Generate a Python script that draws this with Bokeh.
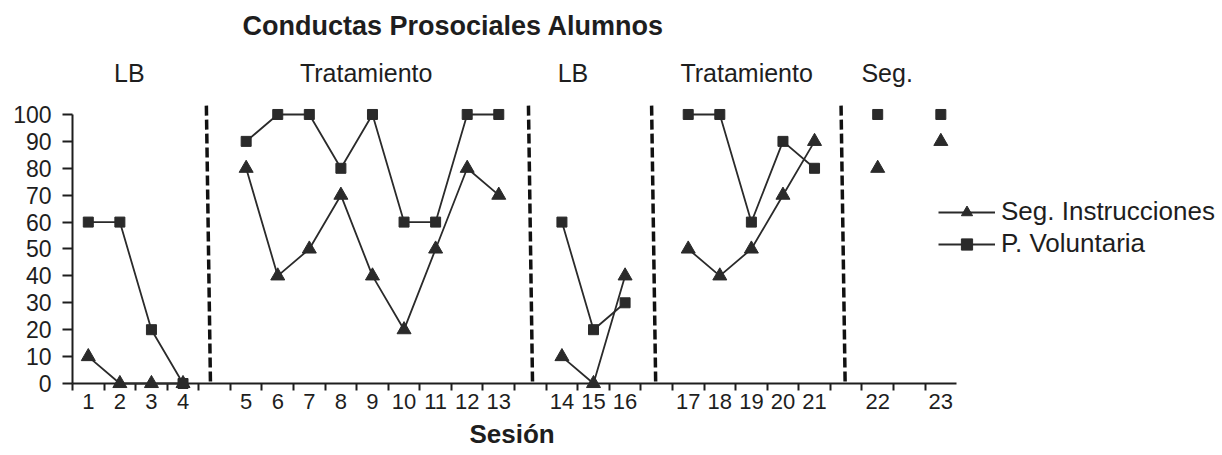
from bokeh.plotting import figure
from bokeh.models import Range1d, FixedTicker, Legend, LegendItem, Title
from bokeh.core.properties import value
from bokeh.embed import file_html
from bokeh.resources import INLINE

# ---------------- data ----------------
sessions = list(range(1, 24))
seg_instrucciones = [10, 0, 0, 0, 80, 40, 50, 70, 40, 20, 50, 80, 70,
                     10, 0, 40, 50, 40, 50, 70, 90, 80, 90]
p_voluntaria = [60, 60, 20, 0, 90, 100, 100, 80, 100, 60, 60, 100, 100,
                60, 20, 30, 100, 100, 60, 90, 80, 100, 100]
gap_after = [4, 13, 16, 21, 22]          # an empty category follows these sessions
phase_names = ["LB", "Tratamiento", "LB", "Tratamiento", "Seg."]
phase_label_pos = [2.3, 9.8, 16.35, 21.85, 26.3]   # in category units
phase_change_pos = [4.8, 15.0, 18.9, 24.9]         # dashed phase-change lines
y_ticks = list(range(0, 101, 10))
x_title = "Sesión"
chart_title = "Conductas Prosociales Alumnos"

# ---------------- derived positions ----------------
pos = []
off = 0
for s in sessions:
    pos.append(s + off)
    if s in gap_after:
        off += 1
n_cells = pos[-1]


def with_breaks(vals):
    xs, ys = [], []
    for s, px, v in zip(sessions, pos, vals):
        xs.append(px)
        ys.append(v)
        if s in gap_after:
            xs.append(px + 1)
            ys.append(float("nan"))
    return xs, ys


INK = "#1e1e1e"
MARK = "#2a2a2a"
FONT = "Liberation Sans"

p = figure(width=1222, height=455, output_backend="svg", toolbar_location=None,
           x_range=Range1d(0.5, 36.92), y_range=Range1d(0, 127.5),
           min_border_left=72, min_border_right=0, min_border_top=40,
           min_border_bottom=72)
p.outline_line_color = None
p.grid.visible = False
p.background_fill_color = "white"

p.title.text = chart_title
p.title.text_font = FONT
p.title.text_font_size = "27px"
p.title.text_font_style = "bold"
p.title.text_color = INK
p.title.align = "left"
p.title.offset = 170
p.title.standoff = 0

# x axis
xax = p.xaxis[0]
xax.ticker = FixedTicker(ticks=pos, minor_ticks=[k + 0.5 for k in range(n_cells)])
xax.major_label_overrides = {px: str(s) for px, s in zip(pos, sessions)}
xax.bounds = (0.5, n_cells + 0.5)
xax.axis_line_width = 2
xax.axis_line_color = INK
xax.major_tick_out = 7
xax.major_tick_in = 0
xax.major_tick_line_color = None
xax.minor_tick_out = 7
xax.minor_tick_in = 0
xax.minor_tick_line_width = 2
xax.minor_tick_line_color = INK
xax.major_label_text_font = FONT
xax.major_label_text_font_size = "22px"
xax.major_label_text_color = INK
xax.major_label_standoff = 3

# x axis title, centred under the category axis (panel below the axis)
p.add_layout(Title(text=x_title, align="left", offset=397, vertical_align="bottom",
                   standoff=10, text_font=FONT, text_font_size="26px",
                   text_font_style="bold", text_color=INK), "below")

# y axis
yax = p.yaxis[0]
yax.ticker = FixedTicker(ticks=y_ticks)
yax.bounds = (0, 100)
yax.axis_line_width = 2
yax.axis_line_color = INK
yax.major_tick_out = 10
yax.major_tick_in = 0
yax.major_tick_line_width = 2
yax.major_tick_line_color = INK
yax.minor_tick_line_color = None
yax.major_label_text_font = FONT
yax.major_label_text_font_size = "23px"
yax.major_label_text_color = INK
yax.major_label_standoff = 11

# phase change dashed lines
p.segment(x0=[v - 0.06 for v in phase_change_pos], y0=[103.3] * len(phase_change_pos),
          x1=[v + 0.07 for v in phase_change_pos], y1=[-0.75] * len(phase_change_pos),
          line_color="#111111", line_width=3.5, line_dash="10 4", level="overlay")

# phase labels
p.text(x=phase_label_pos, y=[115.6] * len(phase_names), text=phase_names,
       text_align="center", text_baseline="middle",
       text_font=value(FONT), text_font_size="25px", text_color=INK, level="overlay")

# series
xs1, ys1 = with_breaks(seg_instrucciones)
xs2, ys2 = with_breaks(p_voluntaria)
l1 = p.line(xs1, ys1, line_color=MARK, line_width=1.8, level="overlay")
l2 = p.line(xs2, ys2, line_color=MARK, line_width=1.8, level="overlay")
s2 = p.scatter(pos, p_voluntaria, marker="square", size=10, fill_color=MARK,
               line_color=MARK, level="overlay")
s1 = p.scatter(pos, seg_instrucciones, marker="triangle", size=14, fill_color=MARK,
               line_color=MARK, level="overlay")

legend = Legend(items=[LegendItem(label="Seg. Instrucciones", renderers=[l1, s1]),
                       LegendItem(label="P. Voluntaria", renderers=[l2, s2])],
                location=(866, 124), glyph_width=57, glyph_height=28,
                label_standoff=6, spacing=1, padding=0, margin=0,
                border_line_color=None, background_fill_alpha=0,
                label_text_font=FONT, label_text_font_size="26px",
                label_text_color=INK)
p.add_layout(legend)

open("out.html", "w").write(file_html(p, INLINE))
